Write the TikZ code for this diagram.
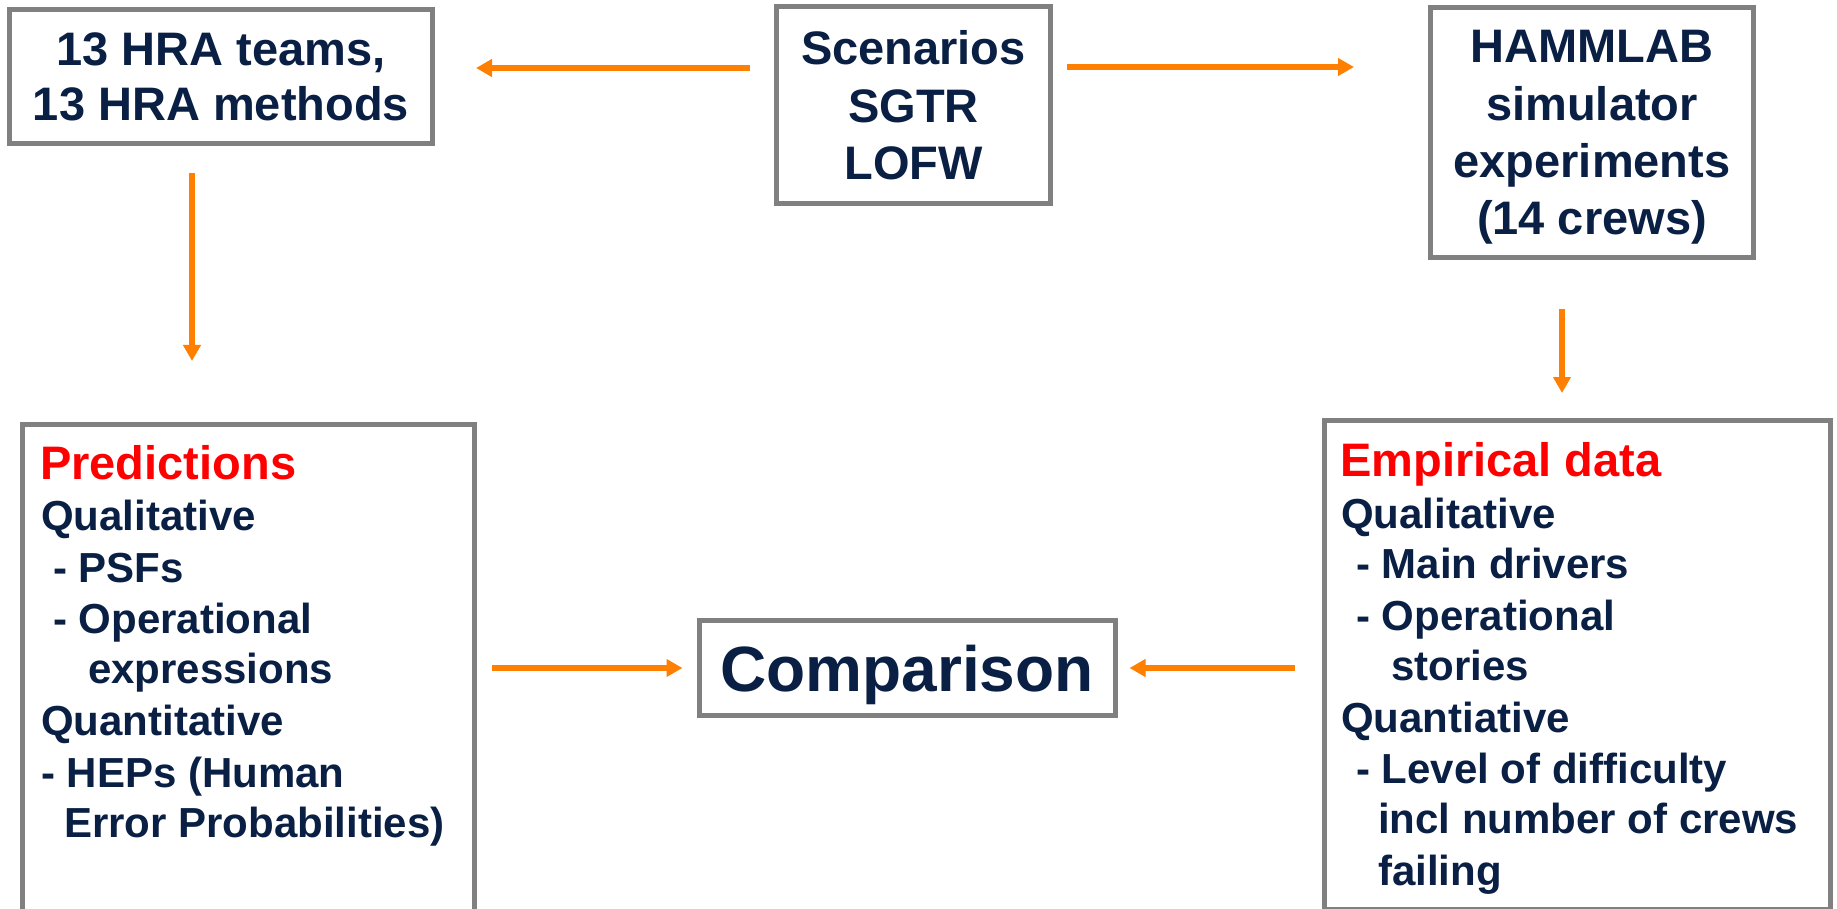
\documentclass[tikz,border=0pt]{standalone}
\usepackage{fontspec}
\setmainfont{Liberation Sans}
\usetikzlibrary{arrows.meta}
\definecolor{navy}{RGB}{10,31,68}
\definecolor{boxgray}{RGB}{128,128,128}
\definecolor{flow}{RGB}{255,128,0}
\definecolor{headred}{RGB}{255,0,0}

\begin{document}
\begin{tikzpicture}[x=1pt,y=-1pt,
  frame/.style={draw=boxgray, line width=5pt, rectangle, inner sep=0pt, fill=white},
  toptext/.style={text=navy, align=center},
  flowarrow/.style={draw=flow, line width=5.5pt, -{Triangle[length=16pt,width=17pt]}},
  head/.style={anchor=base west, inner sep=0pt, font=\fontsize{47}{54}\selectfont\bfseries, text=headred},
  item/.style={anchor=base west, inner sep=0pt, font=\fontsize{42}{51}\selectfont\bfseries, text=navy},
]
\useasboundingbox (0,0) rectangle (1837,909);
\clip (0,0) rectangle (1837,909);

% top row
\node[frame, toptext, minimum width=423pt, minimum height=134pt,
      font=\fontsize{47}{55}\selectfont\bfseries] (teams) at (221,76.5)
      {13 HRA teams,\\13 HRA methods};
\node[frame, toptext, minimum width=274pt, minimum height=197pt,
      font=\fontsize{47}{57.5}\selectfont\bfseries, yshift=1.5pt] (scen) at (913.5,107)
      {Scenarios\\SGTR\\LOFW};
\node[frame, toptext, minimum width=323pt, minimum height=250pt, text depth=0pt,
      font=\fontsize{47}{57.3}\selectfont\bfseries] (hamm) at (1592,132.5)
      {HAMMLAB\\simulator\\experiments\\(14 crews)};

% lower row
\node[frame, minimum width=452pt, minimum height=505.5pt] (pred) at (248.5,677.25) {};
\node[frame, minimum width=506pt, minimum height=488.5pt] (emp) at (1577.5,664.75) {};
\node[frame, toptext, minimum width=416pt, minimum height=95pt, text depth=0pt,
      font=\fontsize{64}{70}\selectfont\bfseries] (comp) at (907,668) {Comparison};

% box contents
\foreach \x/\y/\s/\t [count=\i] in {
  40/479/head/{Predictions},
  41/530/item/{Qualitative},
  53/582/item/{- PSFs},
  53/633/item/{- Operational},
  88/683/item/{expressions},
  41/735/item/{Quantitative},
  41/787/item/{- HEPs (Human},
  64/837/item/{Error Probabilities)}}
  \node[\s] (pred-\i) at (\x,\y) {\t};

\foreach \x/\y/\s/\t [count=\i] in {
  1340/476/head/{Empirical data},
  1341/528/item/{Qualitative},
  1356/578/item/{- Main drivers},
  1356/630/item/{- Operational},
  1391/680/item/{stories},
  1341/732/item/{Quantiative},
  1356/783/item/{- Level of difficulty},
  1378/833/item/{incl number of crews},
  1378/885/item/{failing}}
  \node[\s] (emp-\i) at (\x,\y) {\t};

% connectors
\draw[flowarrow, shorten <=24pt, shorten >=41pt] (scen.west |- 0,68) -- (teams.east |- 0,68);
\draw[flowarrow, shorten <=14pt, shorten >=74pt] (scen.east |- 0,67) -- (hamm.west |- 0,67);
\draw[flowarrow, shorten <=27pt, shorten >=61pt] (teams.south -| 192,0) -- (pred.north -| 192,0);
\draw[flowarrow, shorten <=49pt, shorten >=25pt] (hamm.south -| 1562,0) -- (emp.north -| 1562,0);
\draw[flowarrow, shorten <=15pt, shorten >=14pt] (pred.east |- 0,668) -- (comp.west |- 0,668);
\draw[flowarrow, shorten <=27pt, shorten >=12pt] (emp.west |- 0,668) -- (comp.east |- 0,668);
\end{tikzpicture}
\end{document}
